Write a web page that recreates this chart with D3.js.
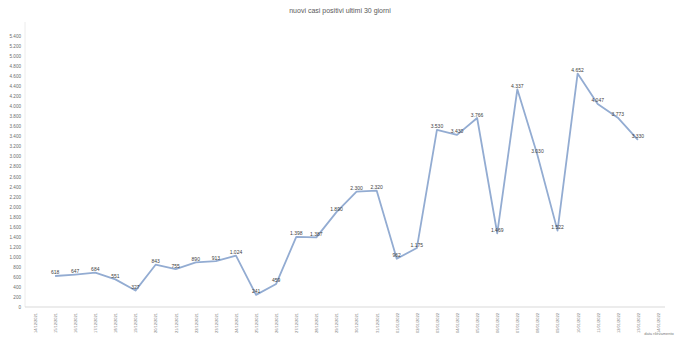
<!DOCTYPE html>
<html>
<head>
<meta charset="UTF-8">
<script src="https://d3js.org/d3.v7.min.js"></script>
<style>
body { margin: 0; background: #fff; }
text { font-family: "Liberation Sans", Arial, sans-serif; }
</style>
</head>
<body>
<svg width="680" height="362"></svg>
<script>

// dates on the x axis (first and last have no value)
var dates = ["14/12/2021","15/12/2021","16/12/2021","17/12/2021","18/12/2021","19/12/2021",
  "20/12/2021","21/12/2021","22/12/2021","23/12/2021","24/12/2021","25/12/2021","26/12/2021",
  "27/12/2021","28/12/2021","29/12/2021","30/12/2021","31/12/2021","01/01/2022","02/01/2022",
  "03/01/2022","04/01/2022","05/01/2022","06/01/2022","07/01/2022","08/01/2022","09/01/2022",
  "10/01/2022","11/01/2022","12/01/2022","13/01/2022","14/01/2022"];

// values from 15/12/2021 to 13/01/2022
var values = [618, 647, 684, 551, 327, 843, 755, 890, 913, 1024, 241, 459, 1398, 1387, 1890,
  2300, 2320, 962, 1175, 3530, 3430, 3766, 1469, 4337, 3030, 1522, 4652, 4047, 3773, 3330];

var yTicks = d3.range(0, 5401, 200);

var svg = d3.select("svg");

var x = d3.scalePoint()
    .domain(dates)
    .range([35, 658]);

var y = d3.scaleLinear()
    .domain([0, 5400])
    .range([307, 36]);

var fmt = function(v) { return d3.format(",")(v).replace(/,/g, "."); };

// title
svg.append("text")
    .attr("x", 340)
    .attr("y", 13)
    .attr("text-anchor", "middle")
    .attr("font-size", 7)
    .attr("fill", "#595959")
    .text("nuovi casi positivi ultimi 30 giorni");

// y axis
var yAxis = svg.append("g")
    .attr("transform", "translate(25,0)")
    .call(d3.axisLeft(y).tickValues(yTicks).tickSize(0).tickPadding(4).tickFormat(fmt));
yAxis.select(".domain").attr("stroke", "#ececec").attr("d", "M0,22V307");
yAxis.selectAll("text").attr("font-size", 4.6).attr("fill", "#6b6b6b");

// x axis
var xAxis = svg.append("g")
    .attr("transform", "translate(0,307)")
    .call(d3.axisBottom(x).tickSize(0).tickPadding(0));
xAxis.select(".domain").attr("stroke", "#d9d9d9").attr("d", "M25,0H665");
xAxis.selectAll("text")
    .attr("font-size", 4)
    .attr("fill", "#7a7a7a")
    .attr("text-anchor", "end")
    .attr("dy", "0.35em")
    .attr("transform", "translate(0,6) rotate(-90)")
    .attr("y", 0)
    .attr("x", 0);

svg.append("text")
    .attr("x", 659)
    .attr("y", 335)
    .attr("text-anchor", "middle")
    .attr("font-size", 4)
    .attr("fill", "#7a7a7a")
    .text("data rilevamento");

// line
var pts = values.map(function(v, i) { return { date: dates[i + 1], value: v }; });

var line = d3.line()
    .x(function(d) { return x(d.date); })
    .y(function(d) { return y(d.value); });

svg.append("path")
    .datum(pts)
    .attr("fill", "none")
    .attr("stroke", "#93acd2")
    .attr("stroke-width", 1.8)
    .attr("stroke-linejoin", "round")
    .attr("d", line);

// data labels
svg.append("g")
    .selectAll("text")
    .data(pts)
    .enter().append("text")
      .attr("x", function(d) { return x(d.date); })
      .attr("y", function(d) { return y(d.value) - 1.5; })
      .attr("text-anchor", "middle")
      .attr("font-size", 5)
      .attr("fill", "#404040")
      .text(function(d) { return fmt(d.value); });

</script>
</body>
</html>
